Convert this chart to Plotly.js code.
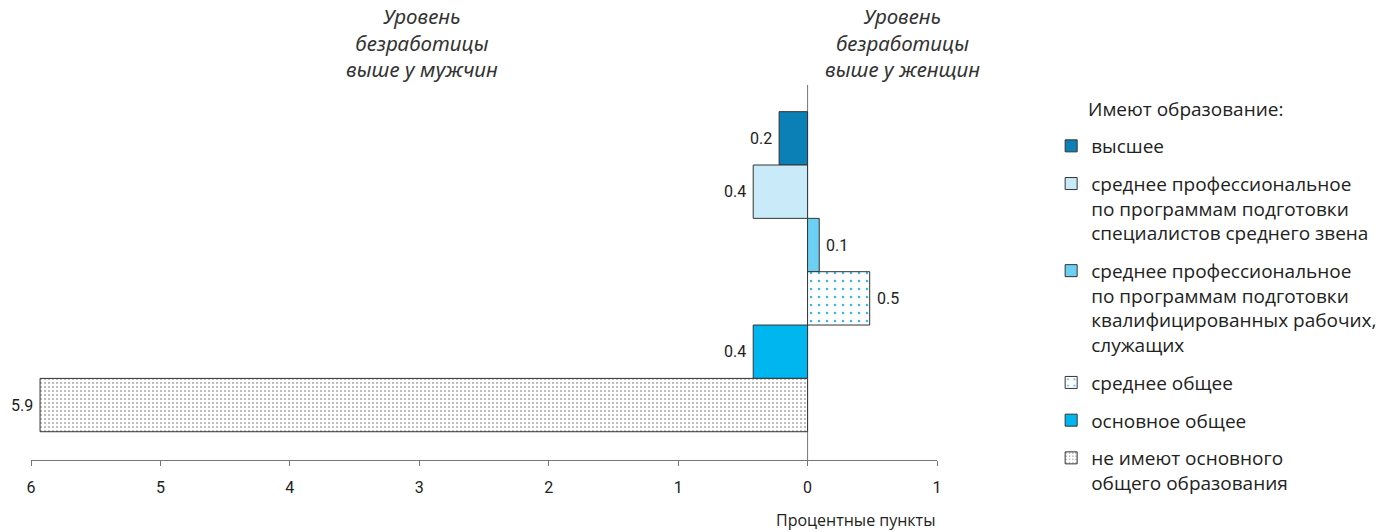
<!DOCTYPE html>
<html>
<head>
<meta charset="utf-8">
<script src="https://cdn.plot.ly/plotly-3.0.1.min.js"></script>
<style>html,body{margin:0;padding:0;background:#fff;}#chart{width:1379px;height:532px;}</style>
</head>
<body>
<div id="chart"></div>
<script>
// Categories (top to bottom) and legend labels
const categories = ['высшее', 'СПО специалисты', 'СПО рабочие', 'среднее общее', 'основное общее', 'не имеют основного общего'];
const legendLabels = [
  'высшее',
  'среднее профессиональное<br>по программам подготовки<br>специалистов среднего звена',
  'среднее профессиональное<br>по программам подготовки<br>квалифицированных рабочих,<br>служащих',
  'среднее общее',
  'основное общее',
  'не имеют основного<br>общего образования'
];
// Difference in unemployment rate (negative = higher for men), percentage points
const values = [-0.22, -0.42, 0.09, 0.48, -0.42, -5.93];
const valueLabels = ['0.2', '0.4', '0.1', '0.5', '0.4', '5.9'];
const tickVals = [-6, -5, -4, -3, -2, -1, 0, 1];
const tickLabels = ['6', '5', '4', '3', '2', '1', '0', '1'];

const colors = ['#0a80b6', '#c8eaf9', '#6dcff4', '#ffffff', '#00b6ee', '#ffffff'];
const patterns = [null, null, null,
  {shape: '.', fgcolor: '#3ab5ea', bgcolor: '#ffffff', size: 8, solidity: 0.08},
  null,
  {shape: '.', fgcolor: '#a8a8a8', bgcolor: '#ffffff', size: 4, solidity: 0.2}];

const traces = categories.map((c, i) => {
  const m = {color: colors[i], line: {color: '#333333', width: 1}};
  if (patterns[i]) m.pattern = patterns[i];
  return {
    type: 'bar', orientation: 'h',
    x: [values[i]], y: [i], width: 1,
    name: legendLabels[i], legendgroup: 'g' + i,
    marker: m,
    hoverinfo: 'skip'
  };
});

const labelFont = {family: 'Roboto, Liberation Sans, sans-serif', size: 16, color: '#222'};
const valueAnnotations = values.map((v, i) => ({
  text: valueLabels[i], xref: 'x', yref: 'y', x: v, y: i,
  xanchor: v < 0 ? 'right' : 'left', yanchor: 'middle',
  xshift: v < 0 ? -5 : 5, showarrow: false, font: labelFont
}));

const italicFont = {family: 'Noto Sans, Open Sans, sans-serif', size: 20.5, color: '#333'};
const textFont = {family: 'Open Sans, Noto Sans, sans-serif', size: 19, color: '#222'};
const layout = {
  width: 1379, height: 532,
  margin: {l: 31, r: 442, t: 85, b: 72, autoexpand: false},
  paper_bgcolor: '#fff', plot_bgcolor: '#fff',
  barmode: 'overlay',
  showlegend: true,
  xaxis: {
    range: [-6, 1], tickvals: tickVals, ticktext: tickLabels,
    showgrid: false, zeroline: false, showline: true, linecolor: '#777', linewidth: 1,
    ticks: 'outside', ticklen: 5, tickcolor: '#777', ticklabelstandoff: 8,
    tickfont: {family: 'Roboto, Liberation Sans, sans-serif', size: 16, color: '#222'},
    fixedrange: true, automargin: false
  },
  yaxis: {
    range: [6.03, -1.0], showgrid: false, zeroline: false, showline: false,
    showticklabels: false, ticks: '', fixedrange: true, automargin: false
  },
  shapes: [
    {type: 'line', xref: 'x', yref: 'paper', x0: 0, x1: 0, y0: 0, y1: 1, line: {color: '#777', width: 1}, layer: 'below'}
  ],
  legend: {
    x: 1.126, y: 0.888, xanchor: 'left', yanchor: 'top',
    font: textFont,
    valign: 'top', tracegroupgap: 10, itemclick: false, itemdoubleclick: false,
    bgcolor: 'rgba(0,0,0,0)'
  },
  annotations: [
    {text: '<i>Уровень<br>безработицы<br>выше у мужчин</i>', xref: 'x', yref: 'paper', x: -2.98, y: 1.226,
      xanchor: 'center', yanchor: 'top', showarrow: false, font: italicFont, align: 'center'},
    {text: '<i>Уровень<br>безработицы<br>выше у женщин</i>', xref: 'x', yref: 'paper', x: 0.73, y: 1.226,
      xanchor: 'center', yanchor: 'top', showarrow: false, font: italicFont, align: 'center'},
    {text: 'Процентные пункты', xref: 'x', yref: 'paper', x: 1, y: -0.16,
      xanchor: 'right', yanchor: 'middle', showarrow: false,
      font: {family: 'Open Sans, Noto Sans, sans-serif', size: 16, color: '#222'}},
    {text: 'Имеют образование:', xref: 'paper', yref: 'paper', x: 1.165, y: 0.975,
      xanchor: 'left', yanchor: 'top', showarrow: false, font: textFont}
  ].concat(valueAnnotations)
};

Plotly.newPlot('chart', traces, layout, {displayModeBar: false, staticPlot: true});
</script>
</body>
</html>
